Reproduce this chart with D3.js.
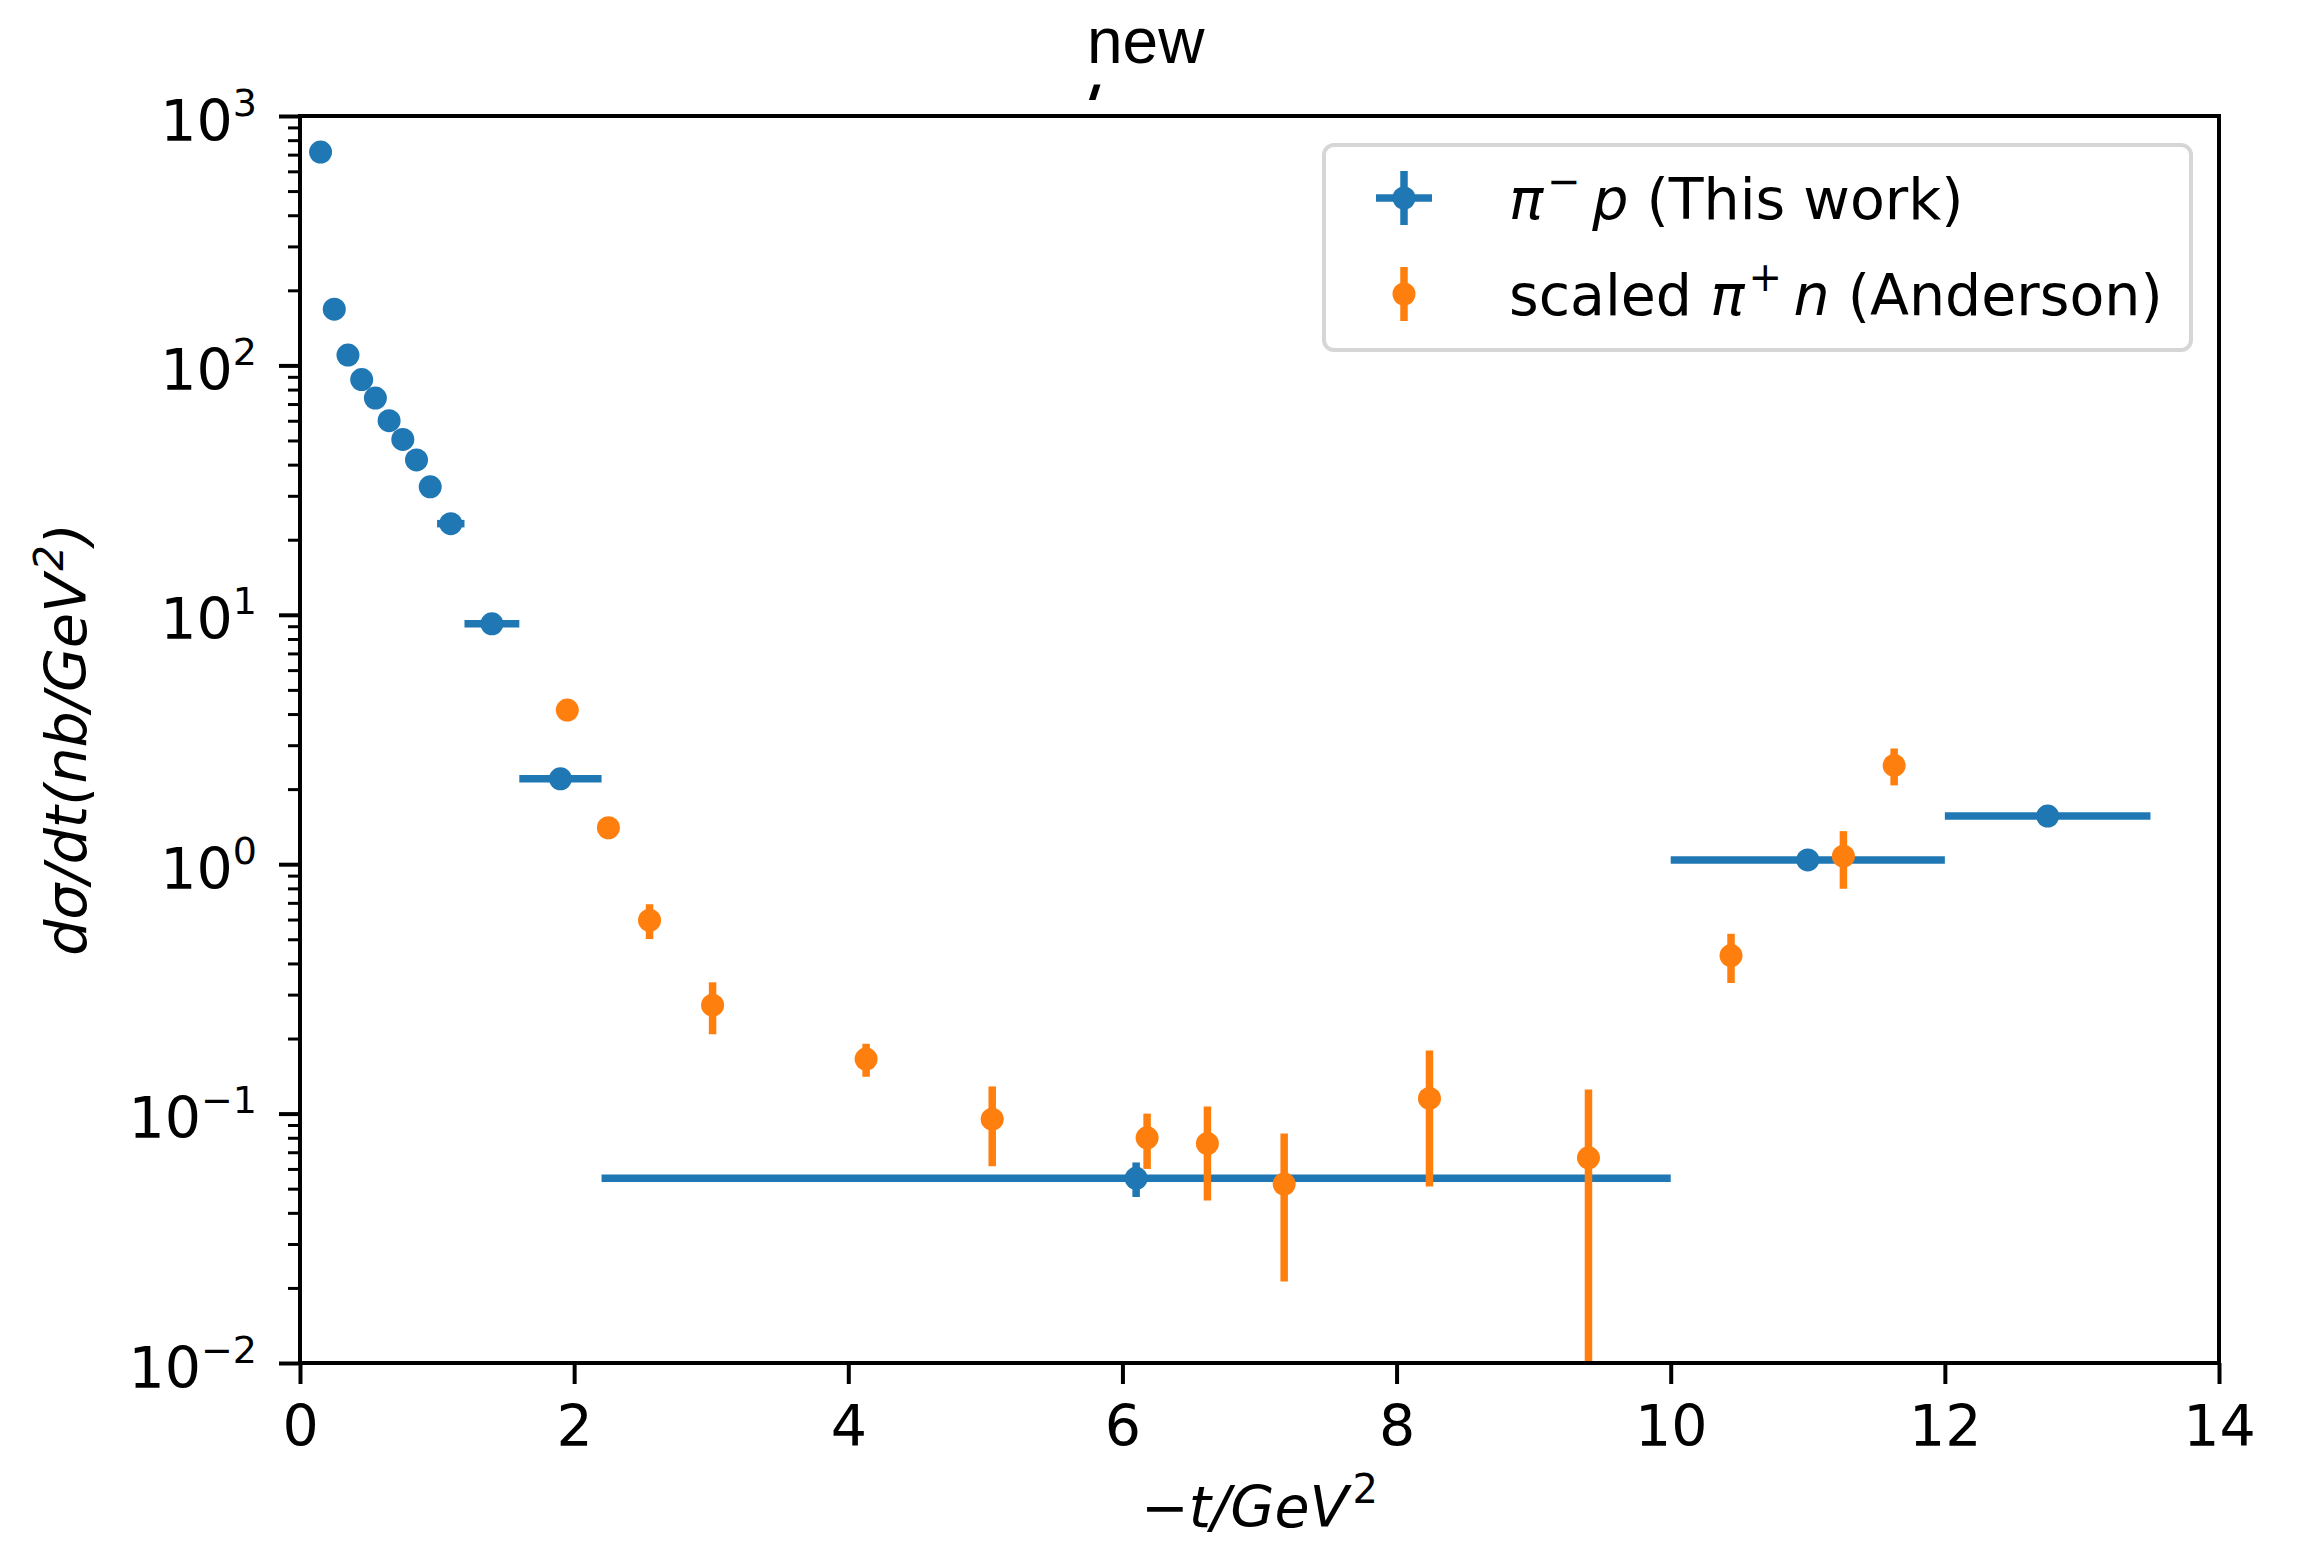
<!DOCTYPE html>
<html>
<head>
<meta charset="utf-8">
<script src="https://cdn.jsdelivr.net/npm/d3@7"></script>
<style>
  body { margin: 0; background: #fff; }
  svg { display: block; font-family: "DejaVu Sans", sans-serif; }
</style>
</head>
<body>
<div id="chart"></div>
<script>
// Datos: pi- p (This work)
const blueT    = [0.15, 0.25, 0.35, 0.45, 0.55, 0.65, 0.75, 0.85, 0.95, 1.1, 1.4, 1.9, 6.1, 11.0, 12.75];
const blueTerr = [0.05, 0.05, 0.05, 0.05, 0.05, 0.05, 0.05, 0.05, 0.05, 0.1, 0.2, 0.3, 3.9, 1.0, 0.75];
const blueY    = [717, 168, 110, 87.7, 74, 60, 50.5, 41.8, 32.6, 23.2, 9.2, 2.2, 0.055, 1.04, 1.56];
const blueYerr = [8, 3, 2, 1.5, 1.2, 1.0, 0.9, 0.8, 0.6, 0.5, 0.25, 0.08, 0.0087, 0.04, 0.06];

// Datos: scaled pi+ n (Anderson)
const orangeT    = [1.95, 2.25, 2.55, 3.01, 4.13, 5.05, 6.18, 6.62, 7.18, 8.24, 9.40, 10.44, 11.26, 11.63];
const orangeY    = [4.15, 1.40, 0.596, 0.272, 0.1655, 0.095, 0.080, 0.0758, 0.0522, 0.115, 0.0665, 0.430, 1.077, 2.49];
const orangeYerr = [0.15, 0.06, 0.095, 0.064, 0.025, 0.0335, 0.02, 0.031, 0.031, 0.064, 0.0585, 0.096, 0.28, 0.42];

// Ticks
const xTicks = [0, 2, 4, 6, 8, 10, 12, 14];
const yTicks = [1e-2, 1e-1, 1e0, 1e1, 1e2, 1e3];
const yExponents = ["\u22122", "\u22121", "0", "1", "2", "3"];

const legendLabels = ["This work", "Anderson"];

const svgWidth = 2315;
const svgHeight = 1547;

// Configuración
const margin = { top: 116, right: 96, bottom: 184, left: 300 };
const width = svgWidth - margin.left - margin.right;
const height = svgHeight - margin.top - margin.bottom;

const blue = "#1f77b4";
const orange = "#ff7f0e";
const fontSize = 57;

const root = d3.select("#chart")
    .append("svg")
    .attr("width", svgWidth)
    .attr("height", svgHeight);

const svg = root.append("g")
    .attr("transform", `translate(${margin.left}, ${margin.top})`);

const x = d3.scaleLinear().domain([0, 14]).range([0, width]);
const y = d3.scaleLog().domain([1e-2, 1e3]).range([height, 0]);

svg.append("clipPath").attr("id", "clip")
    .append("rect").attr("width", width).attr("height", height);

const plot = svg.append("g").attr("clip-path", "url(#clip)");

// Serie azul: barras en x y en y
const blueData = blueT.map((t, i) => ({ t, dt: blueTerr[i], v: blueY[i], dv: blueYerr[i] }));
const orangeData = orangeT.map((t, i) => ({ t, v: orangeY[i], dv: orangeYerr[i] }));

const lw = 7.5;
const r = 11.5;

plot.selectAll(".bx").data(blueData).enter().append("line")
    .attr("x1", d => x(d.t - d.dt)).attr("x2", d => x(d.t + d.dt))
    .attr("y1", d => y(d.v)).attr("y2", d => y(d.v))
    .attr("stroke", blue).attr("stroke-width", lw);

plot.selectAll(".by").data(blueData).enter().append("line")
    .attr("x1", d => x(d.t)).attr("x2", d => x(d.t))
    .attr("y1", d => y(Math.max(d.v - d.dv, 1e-4))).attr("y2", d => y(d.v + d.dv))
    .attr("stroke", blue).attr("stroke-width", lw);

plot.selectAll(".bp").data(blueData).enter().append("circle")
    .attr("cx", d => x(d.t)).attr("cy", d => y(d.v)).attr("r", r)
    .attr("fill", blue);

// Serie naranja: solo barras en y
plot.selectAll(".oy").data(orangeData).enter().append("line")
    .attr("x1", d => x(d.t)).attr("x2", d => x(d.t))
    .attr("y1", d => y(Math.max(d.v - d.dv, 1e-4))).attr("y2", d => y(d.v + d.dv))
    .attr("stroke", orange).attr("stroke-width", lw);

plot.selectAll(".op").data(orangeData).enter().append("circle")
    .attr("cx", d => x(d.t)).attr("cy", d => y(d.v)).attr("r", r)
    .attr("fill", orange);

// Ejes
const xAxis = svg.append("g")
    .attr("transform", `translate(0, ${height})`)
    .call(d3.axisBottom(x).tickValues(xTicks).tickSize(21).tickPadding(22).tickFormat(d3.format("d")));
xAxis.select(".domain").remove();
xAxis.selectAll(".tick line").attr("stroke-width", 4);
xAxis.selectAll(".tick text").attr("font-size", fontSize).attr("font-family", "DejaVu Sans").attr("fill", "#000");

const minorTicks = y.ticks().filter(v => !yTicks.some(t => Math.abs(t - v) / t < 1e-9));
const yMinor = svg.append("g")
    .call(d3.axisLeft(y).tickValues(minorTicks).tickSize(12).tickFormat(""));
yMinor.select(".domain").remove();
yMinor.selectAll(".tick line").attr("stroke-width", 3);

const yAxis = svg.append("g")
    .call(d3.axisLeft(y).tickValues(yTicks).tickSize(21).tickPadding(22).tickFormat(""));
yAxis.select(".domain").remove();
yAxis.selectAll(".tick line").attr("stroke-width", 4);
yAxis.selectAll(".tick text")
    .attr("font-size", fontSize)
    .attr("font-family", "DejaVu Sans")
    .attr("fill", "#000")
    .attr("dy", null)
    .attr("y", 24)
    .each(function(d, i) {
        const t = d3.select(this);
        t.append("tspan").text("10");
        t.append("tspan").attr("font-size", 38).attr("dy", -25).text(yExponents[i]);
    });

// Marco
svg.append("rect")
    .attr("width", width).attr("height", height)
    .attr("fill", "none").attr("stroke", "#000").attr("stroke-width", 4);

// Etiquetas de los ejes
const xLabel = root.append("text")
    .attr("x", margin.left + width / 2).attr("y", 1527)
    .attr("text-anchor", "middle")
    .attr("font-size", 57);
xLabel.append("tspan").text("\u2212");
xLabel.append("tspan").attr("font-style", "italic").text("t/GeV");
xLabel.append("tspan").attr("font-size", 40).attr("dx", 4).attr("dy", -24).text("2");

const yLabel = root.append("text")
    .attr("transform", `translate(86, ${margin.top + height / 2}) rotate(-90)`)
    .attr("text-anchor", "middle")
    .attr("font-size", 57)
    .attr("font-style", "italic");
yLabel.append("tspan").text("d\u03c3/dt(nb/GeV");
yLabel.append("tspan").attr("font-size", 40).attr("dx", 3).attr("dy", -23).text("2");
yLabel.append("tspan").attr("dy", 23).text(")");

// Titulo
root.append("text")
    .attr("x", 1087).attr("y", 63)
    .attr("font-family", "Liberation Sans")
    .attr("font-size", 64)
    .text("new");
root.append("text")
    .attr("transform", "translate(1075, 126) skewX(-18)")
    .attr("font-size", fontSize)
    .attr("font-weight", "bold")
    .text("'");

// Leyenda
const legend = root.append("g");
legend.append("rect")
    .attr("x", 1324).attr("y", 145)
    .attr("width", 867).attr("height", 205)
    .attr("rx", 10)
    .attr("fill", "#fff").attr("fill-opacity", 0.8)
    .attr("stroke", "#d6d6d6").attr("stroke-width", 4);

const rows = [
    { color: blue, xerr: true, sign: "\u2212", part: "p", pre: "", label: legendLabels[0], cy: 198 },
    { color: orange, xerr: false, sign: "+", part: "n", pre: "scaled ", label: legendLabels[1], cy: 294 }
];

const item = legend.selectAll(".item").data(rows).enter().append("g")
    .attr("transform", d => `translate(1404, ${d.cy})`);

item.filter(d => d.xerr).append("line")
    .attr("x1", -28).attr("x2", 28).attr("y1", 0).attr("y2", 0)
    .attr("stroke", d => d.color).attr("stroke-width", lw);
item.append("line")
    .attr("x1", 0).attr("x2", 0).attr("y1", -27).attr("y2", 27)
    .attr("stroke", d => d.color).attr("stroke-width", lw);
item.append("circle").attr("r", r).attr("fill", d => d.color);

const itemText = item.append("text")
    .attr("x", 105).attr("y", 21)
    .attr("font-size", fontSize);
itemText.append("tspan").text(d => d.pre);
itemText.append("tspan").attr("font-style", "italic").text("\u03c0");
itemText.append("tspan").attr("font-size", 40).attr("dx", 4).attr("dy", -24).text(d => d.sign);
itemText.append("tspan").attr("dy", 24).attr("font-style", "italic").text(d => "\u2009" + d.part);
itemText.append("tspan").text(d => " (" + d.label + ")");
</script>
</body>
</html>
